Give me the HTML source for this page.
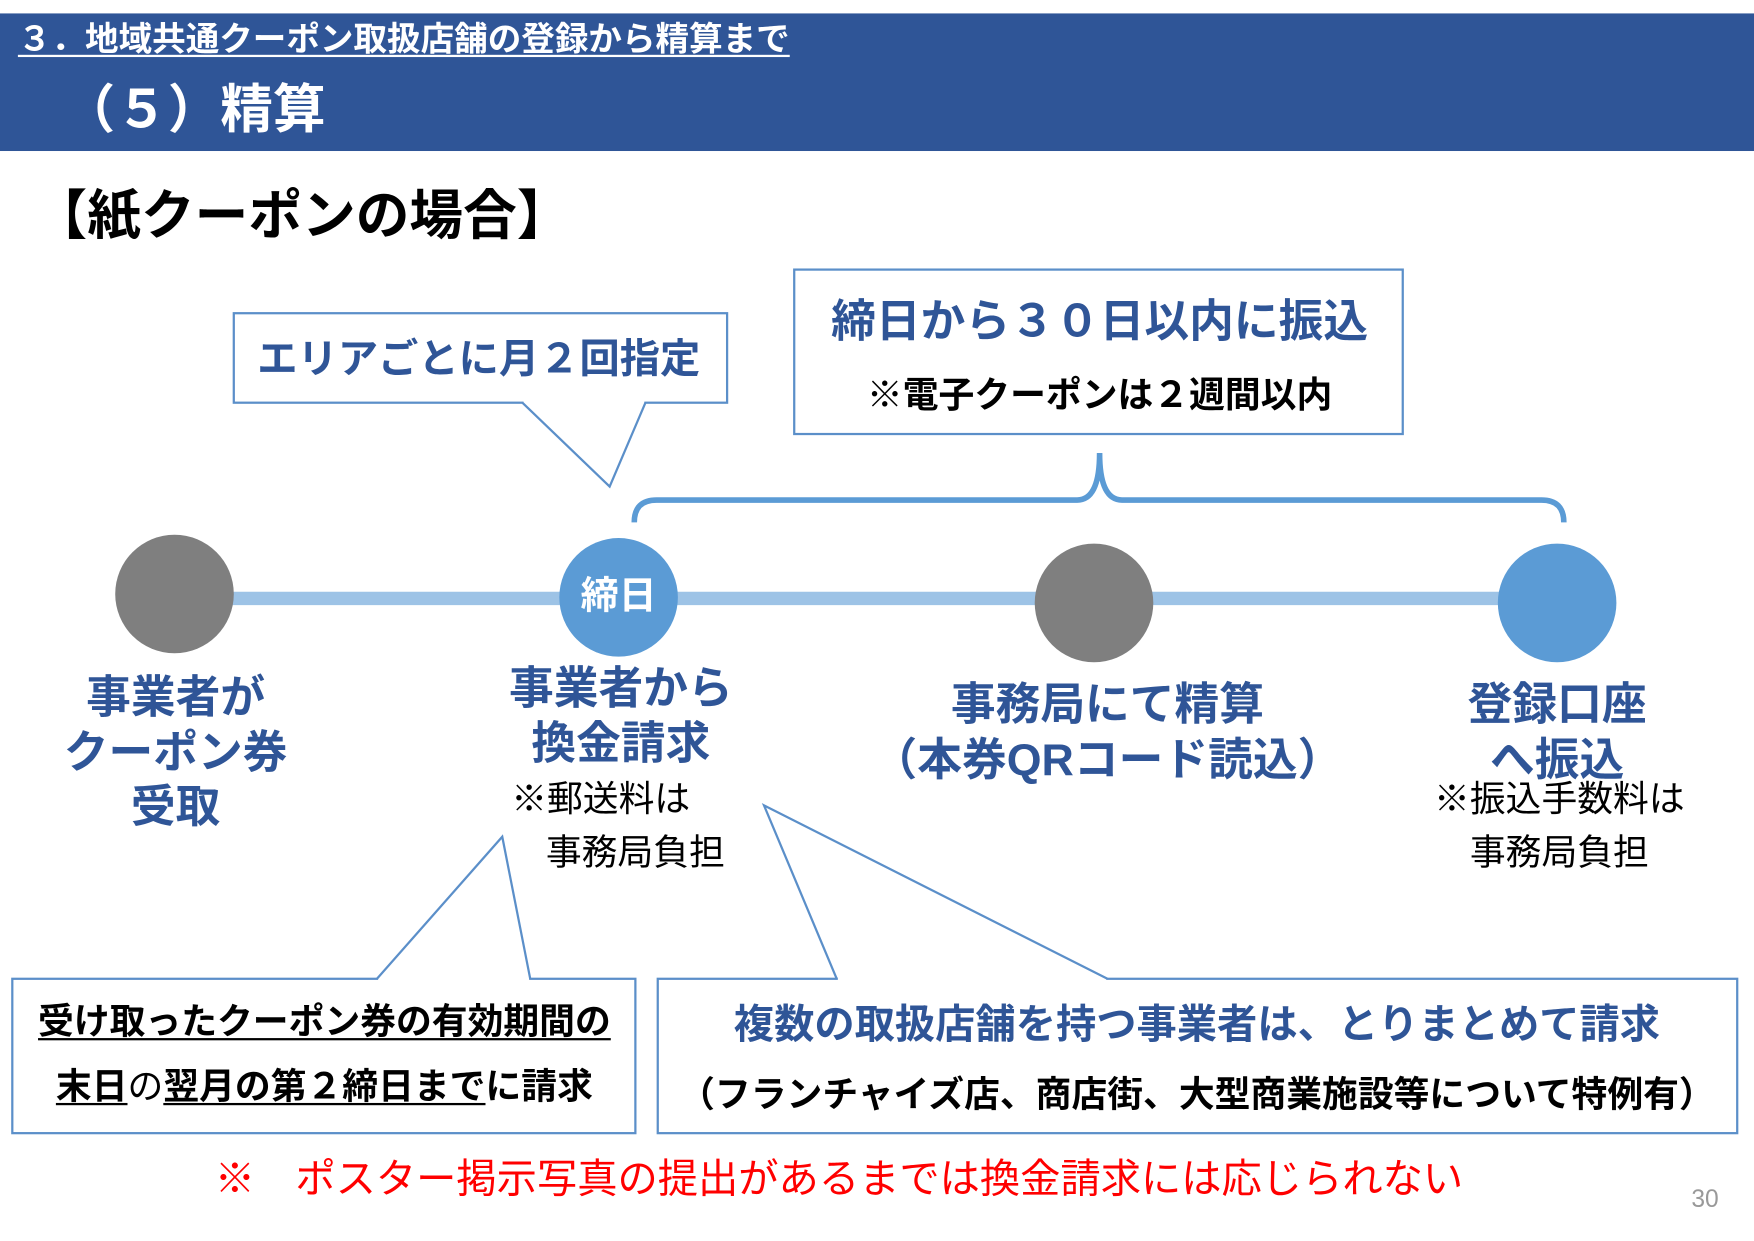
<!DOCTYPE html>
<html><head><meta charset="utf-8"><style>
html,body{margin:0;padding:0;background:#fff;}
body{width:1754px;height:1241px;overflow:hidden;position:relative;}
#w{position:absolute;left:0;top:0;width:1568px;height:1109px;transform:scale(1.11862);transform-origin:0 0;font-family:"Liberation Sans","Noto Sans CJK JP",sans-serif;}
.t{position:absolute;white-space:nowrap;line-height:1;}
.b{font-weight:bold;}
.blue{color:#2f5597;}
.c{transform:translateX(-50%);text-align:center;}
u{text-decoration:underline;text-underline-offset:4px;text-decoration-thickness:2px;}
</style></head><body><div id="w">
<div style="position:absolute;left:0;top:12px;width:1568px;height:123px;background:#2f5597;"></div>
<div class="t b" style="left:16px;top:21px;font-size:30px;color:#fff;"><u>３．地域共通クーポン取扱店舗の登録から精算まで</u></div>
<div class="t b" style="left:56px;top:74px;font-size:47px;color:#fff;">（５）精算</div>
<div class="t b" style="left:30px;top:170px;font-size:48px;color:#000;">【紙クーポンの場合】</div>

<svg width="1568" height="1109" style="position:absolute;left:0;top:0">
<g fill="#fff" stroke="#5b8fc9" stroke-width="2">
<rect x="209" y="280" width="441" height="80"/>
<rect x="710" y="241" width="544" height="147"/>
<rect x="11" y="875" width="557" height="138"/>
<rect x="588" y="875" width="965" height="138"/>
</g>
<g fill="#fff" stroke="none">
<rect x="468" y="357" width="108" height="6"/>
<rect x="338" y="872" width="135" height="6"/>
<rect x="749" y="872" width="240" height="6"/>
</g>
<g fill="none" stroke="#5b8fc9" stroke-width="2">
<polyline points="467,360 545,435 577,360"/>
<polyline points="337,875 449,748 474,875"/>
<polyline points="748,875 683,720 990,875"/>
</g>
<path d="M567,467 Q567,447 587,447 L963,447 Q983,447 983,405 Q983,447 1003,447 L1378,447 Q1398,447 1398,467" fill="none" stroke="#5b9bd5" stroke-width="5"/>
<line x1="156" y1="535" x2="1392" y2="535" stroke="#9dc3e6" stroke-width="12"/>
<circle cx="156" cy="531" r="53" fill="#7f7f7f"/>
<circle cx="553" cy="534" r="53" fill="#5b9bd5"/>
<circle cx="978" cy="539" r="53" fill="#7f7f7f"/>
<circle cx="1392" cy="539" r="53" fill="#5b9bd5"/>
</svg>

<div class="t b blue" style="left:230px;top:303px;font-size:36px;">エリアごとに月２回指定</div>
<div class="t b blue c" style="left:983px;top:268px;font-size:40px;">締日から３０日以内に振込</div>
<div class="t b c" style="left:983px;top:337px;font-size:32px;">※電子クーポンは２週間以内</div>
<div class="t b c" style="left:553px;top:516px;font-size:34px;color:#fff;">締日</div>

<div class="t b blue c" style="left:157px;top:600px;font-size:40px;line-height:49px;">事業者が<br>クーポン券<br>受取</div>
<div class="t b blue c" style="left:555px;top:592px;font-size:40px;line-height:49px;">事業者から<br>換金請求</div>
<div class="t" style="left:457px;top:698px;font-size:32px;">※郵送料は</div>
<div class="t" style="left:488px;top:746px;font-size:32px;">事務局負担</div>
<div class="t b blue c" style="left:990px;top:605px;font-size:40px;line-height:50px;">事務局にて精算<br>（本券QRコード読込）</div>
<div class="t b blue c" style="left:1392px;top:605px;font-size:40px;line-height:50px;">登録口座<br>へ振込</div>
<div class="t c" style="left:1394px;top:698px;font-size:32px;">※振込手数料は</div>
<div class="t c" style="left:1394px;top:746px;font-size:32px;">事務局負担</div>

<div class="t b c" style="left:290px;top:897px;font-size:32px;"><u>受け取ったクーポン券の有効期間の</u></div>
<div class="t b c" style="left:290px;top:955px;font-size:32px;"><u>末日</u><span style="font-weight:normal">の</span><u>翌月の第２締日まで</u>に請求</div>
<div class="t b blue c" style="left:1070px;top:898px;font-size:36px;">複数の取扱店舗を持つ事業者は、とりまとめて請求</div>
<div class="t b c" style="left:1070px;top:962px;font-size:32px;">（フランチャイズ店、商店街、大型商業施設等について特例有）</div>

<div class="t" style="left:192px;top:1036px;font-size:36px;color:#ff0000;">※　ポスター掲示写真の提出があるまでは換金請求には応じられない</div>
<div class="t" style="left:1512px;top:1061px;font-size:22px;color:#999;">30</div>
</div></body></html>
